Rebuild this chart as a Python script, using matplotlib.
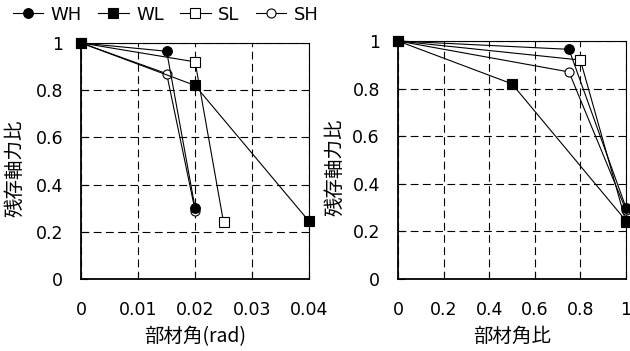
import matplotlib
matplotlib.use("Agg")
import matplotlib.pyplot as plt

plt.rcParams['font.family'] = ['DejaVu Sans', 'Noto Sans CJK JP']

series = ["WH", "WL", "SL", "SH"]
# Left panel: member rotation angle (rad) vs residual axial force ratio
wh_x = [0, 0.015, 0.02]
wh_y = [1.0, 0.965, 0.30]
wl_x = [0, 0.02, 0.04]
wl_y = [1.0, 0.82, 0.245]
sl_x = [0, 0.02, 0.025]
sl_y = [1.0, 0.92, 0.24]
sh_x = [0, 0.015, 0.02]
sh_y = [1.0, 0.87, 0.29]
# Right panel: member rotation angle ratio
wh_r = [0, 0.75, 1.0]
wl_r = [0, 0.50, 1.0]
sl_r = [0, 0.80, 1.0]
sh_r = [0, 0.75, 1.0]

xticks_left = [0, 0.01, 0.02, 0.03, 0.04]
xticklabels_left = ["0", "0.01", "0.02", "0.03", "0.04"]
xticks_right = [0, 0.2, 0.4, 0.6, 0.8, 1.0]
xticklabels_right = ["0", "0.2", "0.4", "0.6", "0.8", "1"]
yticks = [0, 0.2, 0.4, 0.6, 0.8, 1.0]
yticklabels = ["0", "0.2", "0.4", "0.6", "0.8", "1"]

styles = {
    "WH": dict(marker='o', markerfacecolor='black', markersize=7),
    "WL": dict(marker='s', markerfacecolor='black', markersize=7),
    "SL": dict(marker='s', markerfacecolor='white', markersize=6.5),
    "SH": dict(marker='o', markerfacecolor='white', markersize=6.5),
}
# drawing order: open markers below filled ones
zorders = {"SL": 3, "SH": 3.1, "WH": 3.2, "WL": 3.3}

fig = plt.figure(figsize=(6.3, 3.51), dpi=100)
axL = fig.add_axes([0.129, 0.2051, 0.3614, 0.6724])
axR = fig.add_axes([0.6317, 0.2051, 0.3619, 0.6781])

left_data = {"WH": (wh_x, wh_y), "WL": (wl_x, wl_y), "SL": (sl_x, sl_y), "SH": (sh_x, sh_y)}
right_data = {"WH": (wh_r, wh_y), "WL": (wl_r, wl_y), "SL": (sl_r, sl_y), "SH": (sh_r, sh_y)}

handles = []
for ax, data in ((axL, left_data), (axR, right_data)):
    for name in series:
        xs, ys = data[name]
        h, = ax.plot(xs, ys, color='black', linewidth=0.8, markeredgecolor='black',
                     markeredgewidth=0.8, clip_on=False, label=name, zorder=zorders[name],
                     **styles[name])
        if ax is axL:
            handles.append(h)

for ax, xt, xl, xmax, lx in ((axL, xticks_left, xticklabels_left, 0.04, -0.291),
                             (axR, xticks_right, xticklabels_right, 1.0, -0.276)):
    ax.set_xlim(0, xmax)
    ax.set_ylim(0, 1)
    ax.set_xticks(xt)
    ax.set_xticklabels(xl)
    ax.set_yticks(yticks)
    ax.set_yticklabels(yticklabels)
    ax.tick_params(axis='both', direction='in', length=5, width=0.8, labelsize=12.5, colors='black')
    ax.tick_params(axis='x', pad=16)
    ax.tick_params(axis='y', pad=13)
    ax.grid(True, color='black', linestyle=(0, (7, 4)), linewidth=0.8)
    ax.set_axisbelow(True)
    for s in ('left', 'bottom'):
        ax.spines[s].set_linewidth(1.3)
    for s in ('top', 'right'):
        ax.spines[s].set_linewidth(0.8)
    ax.set_ylabel("残存軸力比", fontsize=14, family=['Noto Sans CJK JP'], va='center')
    ax.yaxis.set_label_coords(lx, 0.47)

axL.set_xlabel("部材角(rad)", fontsize=14, family=['Noto Sans CJK JP', 'DejaVu Sans'], labelpad=5)
axR.set_xlabel("部材角比", fontsize=14, family=['Noto Sans CJK JP'], labelpad=5)

fig.legend(handles=handles, labels=series, loc='upper left', bbox_to_anchor=(0.0, 1.02),
           ncol=4, frameon=False, fontsize=13, handlelength=1.7, handletextpad=0.4,
           columnspacing=0.9, borderaxespad=0.3)

fig.savefig("out.png", dpi=100)
